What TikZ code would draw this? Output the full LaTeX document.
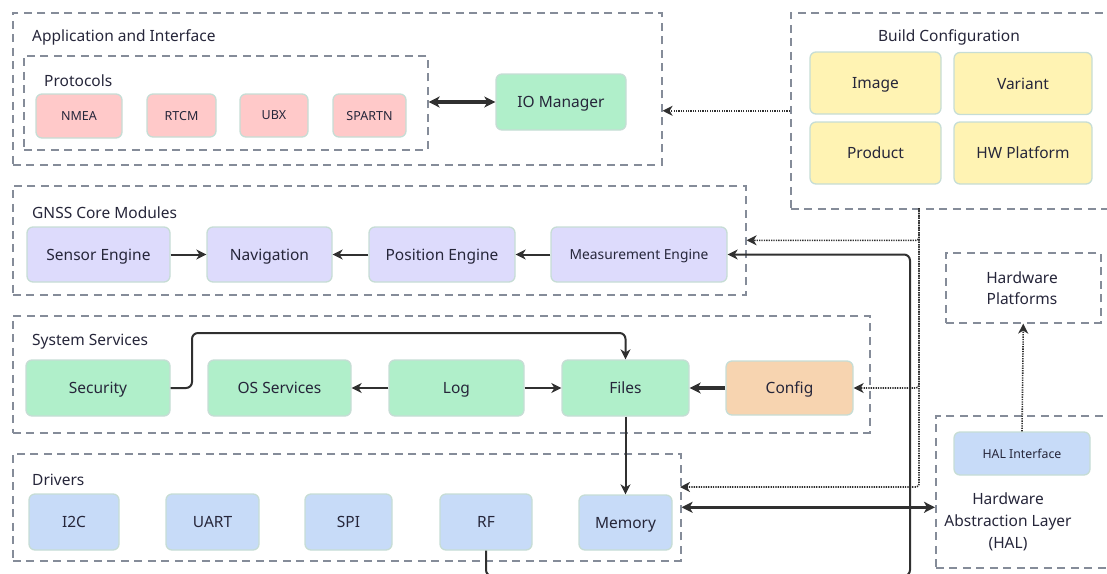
\documentclass[tikz,border=0pt]{standalone}
\usepackage{fontspec}
\setmainfont{Noto Sans}
\usetikzlibrary{arrows.meta}
\definecolor{pinkF}{HTML}{FFC9C9}
\definecolor{greenF}{HTML}{B0EFCA}
\definecolor{lavF}{HTML}{DDDBFC}
\definecolor{yelF}{HTML}{FFF3B3}
\definecolor{peachF}{HTML}{F7D4B0}
\definecolor{blueF}{HTML}{C7DBF8}
\definecolor{nodeLine}{HTML}{C6DDD5}
\definecolor{grpLine}{HTML}{858C99}
\definecolor{txtC}{HTML}{26263A}
\definecolor{arrC}{HTML}{303030}
\tikzset{
  blk/.style={draw=nodeLine, line width=1.3pt, rounded corners=6pt, inner sep=0pt,
    text=txtC, font=\fontsize{15.5}{18}\selectfont, text depth=0pt, yshift=0pt},
  small/.style={font=\fontsize{12.5}{14}\selectfont},
  grp/.style={draw=grpLine, line width=1.6pt, dash pattern=on 8pt off 5.5pt,
    inner sep=0pt, anchor=north west},
  ttl/.style={text=txtC, font=\fontsize{15.5}{18}\selectfont, inner sep=0pt, yshift=-1.5pt},
  flow/.style={draw=arrC, line width=2pt, -{Stealth[length=10pt,width=10pt,inset=3pt]}},
  bold/.style={draw=arrC, line width=3.2pt, -{Stealth[length=11pt,width=11pt,inset=3pt]}},
  both/.style={draw=arrC, line width=3.2pt,
    {Stealth[length=11pt,width=11pt,inset=3pt]}-{Stealth[length=11pt,width=11pt,inset=3pt]}},
  dots/.style={draw=arrC, line width=1.6pt, dash pattern=on 1.3pt off 1.1pt,
    -{Stealth[length=10pt,width=10pt,inset=3pt]}},
}
\newcommand{\grpbox}[5]{\node[grp, minimum width=#4-#2, minimum height=#5-#3] (#1) at (#2,#3) {};}
\begin{document}
\begin{tikzpicture}[x=1pt, y=-1pt]
\useasboundingbox (0,0) rectangle (1107,573);
\clip (0,0) rectangle (1107,573);

% containers
\grpbox{app}{12}{12}{661}{164}
\grpbox{proto}{23}{55}{427}{149}
\grpbox{build}{790}{12}{1118}{208}
\grpbox{gnss}{12}{185}{745}{294}
\grpbox{sys}{12}{315}{869}{432}
\grpbox{drv}{12}{453}{680}{560}
\grpbox{hwp}{945}{252}{1100}{322}
\grpbox{hal}{935}{415}{1118}{567}

% container titles
\node[ttl, anchor=west] (appT) at (32,36) {Application and Interface};
\node[ttl, anchor=west] (protoT) at (44,79) {Protocols};
\node[ttl] (buildT) at (949,36) {Build Configuration};
\node[ttl, anchor=west] (gnssT) at (32,211) {GNSS Core Modules};
\node[ttl, anchor=west] (sysT) at (32,340) {System Services};
\node[ttl, anchor=west] (drvT) at (32,478) {Drivers};
\node[ttl, align=center, font=\fontsize{15.5}{21}\selectfont] (hwpT) at (1022,287) {Hardware\\Platforms};
\node[ttl, align=center, font=\fontsize{15.5}{22}\selectfont] (halT) at (1008,520) {Hardware\\Abstraction Layer\\(HAL)};

% protocols and application
\node[blk, small, fill=pinkF, minimum width=86, minimum height=44] (nmea) at (79,116) {NMEA};
\node[blk, small, fill=pinkF, minimum width=69, minimum height=43] (rtcm) at (181.5,115.5) {RTCM};
\node[blk, small, fill=pinkF, minimum width=68, minimum height=43] (ubx) at (274,115.5) {UBX};
\node[blk, small, fill=pinkF, minimum width=73, minimum height=43] (spartn) at (369.5,115.5) {SPARTN};
\node[blk, fill=greenF, minimum width=130, minimum height=56] (io) at (561,102) {IO Manager};

% build configuration
\node[blk, fill=yelF, minimum width=131, minimum height=62] (img) at (875.5,83) {Image};
\node[blk, fill=yelF, minimum width=138, minimum height=62] (var) at (1023,83.5) {Variant};
\node[blk, fill=yelF, minimum width=131, minimum height=62] (prod) at (875.5,153) {Product};
\node[blk, fill=yelF, minimum width=138, minimum height=62] (hwpl) at (1023,153) {HW Platform};

% GNSS core
\node[blk, fill=lavF, minimum width=143, minimum height=55] (sens) at (98.5,254.5) {Sensor Engine};
\node[blk, fill=lavF, minimum width=125, minimum height=55] (nav) at (269.5,254.5) {Navigation};
\node[blk, fill=lavF, minimum width=146, minimum height=55] (pos) at (442,254.5) {Position Engine};
\node[blk, fill=lavF, minimum width=176, minimum height=55, font=\fontsize{13.8}{16}\selectfont] (meas) at (639,254.5) {Measurement Engine};

% system services
\node[blk, fill=greenF, minimum width=144, minimum height=56] (sec) at (98,388) {Security};
\node[blk, fill=greenF, minimum width=143, minimum height=56] (os) at (279.5,388) {OS Services};
\node[blk, fill=greenF, minimum width=135, minimum height=56] (log) at (456.5,388) {Log};
\node[blk, fill=greenF, minimum width=127, minimum height=56] (files) at (625.5,388) {Files};
\node[blk, fill=peachF, minimum width=127, minimum height=54] (cfg) at (789.5,388) {Config};

% drivers
\node[blk, fill=blueF, minimum width=90, minimum height=56] (i2c) at (74,522) {I2C};
\node[blk, fill=blueF, minimum width=93, minimum height=56] (uart) at (212.5,522) {UART};
\node[blk, fill=blueF, minimum width=87, minimum height=56] (spi) at (348.5,522) {SPI};
\node[blk, fill=blueF, minimum width=92, minimum height=56] (rf) at (486,522) {RF};
\node[blk, fill=blueF, minimum width=93, minimum height=55] (mem) at (625.5,522.5) {Memory};

% HAL
\node[blk, fill=blueF, minimum width=136, minimum height=43, font=\fontsize{12.3}{14}\selectfont] (halif) at (1022,453.5) {HAL Interface};

% routing points
\coordinate (bj) at (919,208);
\coordinate (drvIn) at (680,487);
\coordinate (lowR) at (910,576);

% connectors
\draw[both] (proto.east |- io.west) -- (io.west);
\draw[dots] (build.west) -- (build.west -| app.east);

\draw[flow] (sens.east) -- (nav.west);
\draw[flow] (pos.west) -- (nav.east);
\draw[flow] (meas.west) -- (pos.east);
\draw[flow, rounded corners=6pt] (rf.south) -- (rf.south |- lowR) -- (lowR) |- (meas.east);

\draw[dots, rounded corners=3pt] (bj) |- (gnss.east);
\draw[dots, rounded corners=3pt] (bj) |- (cfg.east);
\draw[dots, rounded corners=3pt] (bj) |- (drvIn);

\draw[flow, rounded corners=6pt] (sec.east) -- (192,388) -- (192,333) -- (625.5,333) -- (files.north);
\draw[flow] (log.west) -- (os.east);
\draw[flow] (log.east) -- (files.west);
\draw[bold] (cfg.west) -- (files.east);
\draw[flow] (files.south) -- (mem.north);

\draw[both] (drv.east) -- (drv.east -| hal.west);
\draw[dots] (halif.north) -- (hwp.south);
\end{tikzpicture}
\end{document}
